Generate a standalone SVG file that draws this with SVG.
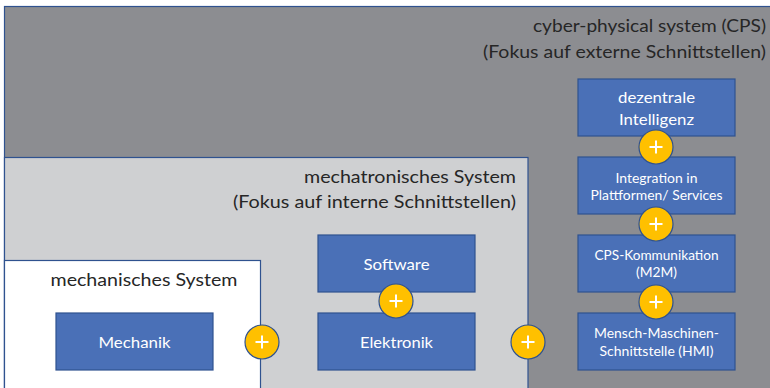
<svg xmlns="http://www.w3.org/2000/svg" width="770" height="388" viewBox="0 0 770 388">
<style>
.cont{stroke:#2F528F;stroke-width:1.2}
.box{fill:#4A70B7;stroke:#2F528F;stroke-width:1.2}
.head{font-family:Lato,"Open Sans","Liberation Sans",sans-serif;font-size:18px;fill:#262626}
.lbl{font-family:Lato,"Open Sans","Liberation Sans",sans-serif;font-size:15px;fill:#ffffff;text-anchor:middle}
.sm{font-size:13px}
</style>
<defs>
<g id="p"><circle cx="0" cy="0" r="17" fill="#FFC000" stroke="#2F528F" stroke-width="1.2"/><path d="M-6.5 0H6.5M0 -6.5V6.5" stroke="#FFFFFF" stroke-width="2" fill="none"/></g>
</defs>
<rect width="770" height="388" fill="#ffffff"/>
<g id="cps">
<rect class="cont" x="4.5" y="6.5" width="780" height="400" fill="#8C8D91"/>
<text class="head" x="766" y="32" text-anchor="end" textLength="233" lengthAdjust="spacingAndGlyphs">cyber-physical system (CPS)</text>
<text class="head" x="766" y="58" text-anchor="end" textLength="283" lengthAdjust="spacingAndGlyphs">(Fokus auf externe Schnittstellen)</text>
</g>
<g id="mechatronic">
<rect class="cont" x="4.5" y="157.5" width="523.5" height="250" fill="#CFD0D2"/>
<text class="head" x="516" y="183" text-anchor="end" textLength="212" lengthAdjust="spacingAndGlyphs">mechatronisches System</text>
<text class="head" x="516" y="208" text-anchor="end" textLength="283" lengthAdjust="spacingAndGlyphs">(Fokus auf interne Schnittstellen)</text>
</g>
<g id="mechanical">
<rect class="cont" x="4.5" y="260.5" width="256" height="150" fill="#FFFFFF"/>
<text class="head" x="50.5" y="286" textLength="187" lengthAdjust="spacingAndGlyphs">mechanisches System</text>
</g>
<g id="mechanik">
<rect class="box" x="56" y="313" width="157" height="57"/>
<text class="lbl" x="134.5" y="348" textLength="72" lengthAdjust="spacingAndGlyphs">Mechanik</text>
</g>
<g id="software">
<rect class="box" x="318" y="235" width="157" height="57"/>
<text class="lbl" x="396.5" y="270" textLength="66" lengthAdjust="spacingAndGlyphs">Software</text>
</g>
<g id="elektronik">
<rect class="box" x="318" y="313" width="157" height="57"/>
<text class="lbl" x="396.5" y="348" textLength="73" lengthAdjust="spacingAndGlyphs">Elektronik</text>
</g>
<g id="dezentrale">
<rect class="box" x="578" y="79" width="157" height="57"/>
<text class="lbl" x="656.5" y="103" textLength="77" lengthAdjust="spacingAndGlyphs">dezentrale</text>
<text class="lbl" x="656.5" y="125" textLength="75" lengthAdjust="spacingAndGlyphs">Intelligenz</text>
</g>
<g id="integration">
<rect class="box" x="578" y="157" width="157" height="57"/>
<text class="lbl sm" x="656.5" y="182.5" textLength="82" lengthAdjust="spacingAndGlyphs">Integration in</text>
<text class="lbl sm" x="656.5" y="200" textLength="132" lengthAdjust="spacingAndGlyphs">Plattformen/ Services</text>
</g>
<g id="kommunikation">
<rect class="box" x="578" y="235" width="157" height="57"/>
<text class="lbl sm" x="656.5" y="260" textLength="124" lengthAdjust="spacingAndGlyphs">CPS-Kommunikation</text>
<text class="lbl sm" x="656.5" y="277" textLength="41" lengthAdjust="spacingAndGlyphs">(M2M)</text>
</g>
<g id="hmi">
<rect class="box" x="578" y="313" width="157" height="57"/>
<text class="lbl sm" x="656.5" y="338" textLength="125" lengthAdjust="spacingAndGlyphs">Mensch-Maschinen-</text>
<text class="lbl sm" x="656.5" y="356" textLength="114" lengthAdjust="spacingAndGlyphs">Schnittstelle (HMI)</text>
</g>
<g id="connectors">
<use href="#p" x="262" y="342"/>
<use href="#p" x="396" y="301"/>
<use href="#p" x="528" y="342"/>
<use href="#p" x="656" y="147"/>
<use href="#p" x="656" y="224"/>
<use href="#p" x="656" y="302"/>
</g>
</svg>
